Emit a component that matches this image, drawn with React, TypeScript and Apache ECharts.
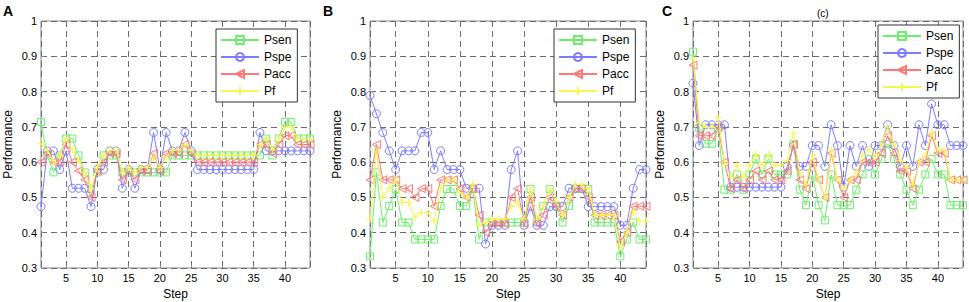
import React, { useEffect, useRef } from 'react';
import * as echarts from 'echarts';

const steps = Array.from({ length: 44 }, (_, i) => i + 1);
const seriesNames = ['Psen', 'Pspe', 'Pacc', 'Pf'];
const yTicks = [0.3, 0.4, 0.5, 0.6, 0.7, 0.8, 0.9, 1];
const panelLabels = ['A', 'B', 'C'];

// Panel A
const aPsen = [0.714,0.619,0.571,0.619,0.667,0.667,0.619,0.571,0.524,0.571,0.619,0.619,0.619,0.571,0.571,0.571,0.571,0.571,0.571,0.571,0.571,0.619,0.619,0.619,0.619,0.619,0.619,0.619,0.619,0.619,0.619,0.619,0.619,0.619,0.619,0.619,0.667,0.619,0.667,0.714,0.714,0.667,0.667,0.667];
const aPspe = [0.474,0.632,0.632,0.579,0.632,0.526,0.526,0.526,0.474,0.579,0.579,0.632,0.632,0.526,0.579,0.526,0.579,0.579,0.684,0.579,0.684,0.632,0.632,0.684,0.632,0.579,0.579,0.579,0.579,0.579,0.579,0.579,0.579,0.579,0.579,0.684,0.632,0.632,0.632,0.632,0.632,0.632,0.632,0.632];
const aPacc = [0.6,0.625,0.6,0.6,0.65,0.6,0.575,0.55,0.5,0.575,0.6,0.625,0.625,0.55,0.575,0.55,0.575,0.575,0.625,0.575,0.625,0.625,0.625,0.65,0.625,0.6,0.6,0.6,0.6,0.6,0.6,0.6,0.6,0.6,0.6,0.65,0.65,0.625,0.65,0.675,0.675,0.65,0.65,0.65];
const aPf = [0.652,0.634,0.6,0.619,0.667,0.636,0.605,0.571,0.524,0.585,0.619,0.634,0.634,0.571,0.585,0.571,0.585,0.585,0.615,0.585,0.615,0.634,0.634,0.65,0.634,0.619,0.619,0.619,0.619,0.619,0.619,0.619,0.619,0.619,0.619,0.65,0.667,0.634,0.667,0.698,0.698,0.667,0.667,0.667];

// Panel B
const bPsen = [0.333,0.571,0.429,0.476,0.524,0.429,0.429,0.381,0.381,0.381,0.381,0.476,0.524,0.524,0.476,0.476,0.524,0.381,0.429,0.429,0.429,0.429,0.429,0.429,0.429,0.524,0.429,0.476,0.524,0.476,0.429,0.476,0.524,0.524,0.524,0.429,0.429,0.429,0.429,0.333,0.381,0.429,0.381,0.381];
const bPspe = [0.789,0.737,0.684,0.632,0.579,0.632,0.632,0.632,0.684,0.684,0.579,0.632,0.579,0.579,0.579,0.526,0.526,0.526,0.368,0.421,0.421,0.421,0.579,0.632,0.421,0.474,0.421,0.421,0.474,0.474,0.474,0.526,0.526,0.526,0.474,0.474,0.474,0.474,0.474,0.421,0.421,0.526,0.579,0.579];
const bPacc = [0.55,0.65,0.55,0.55,0.55,0.525,0.525,0.5,0.525,0.525,0.475,0.55,0.55,0.55,0.525,0.5,0.525,0.45,0.4,0.425,0.425,0.425,0.5,0.525,0.425,0.5,0.425,0.45,0.5,0.475,0.45,0.5,0.525,0.525,0.5,0.45,0.45,0.45,0.45,0.375,0.4,0.475,0.475,0.475];
const bPf = [0.438,0.632,0.5,0.526,0.55,0.486,0.486,0.444,0.457,0.457,0.432,0.526,0.55,0.55,0.513,0.5,0.537,0.421,0.429,0.439,0.439,0.439,0.474,0.486,0.439,0.524,0.439,0.476,0.524,0.488,0.45,0.5,0.537,0.537,0.524,0.45,0.45,0.45,0.45,0.359,0.4,0.462,0.432,0.432];

// Panel C
const cPsen = [0.913,0.696,0.652,0.652,0.696,0.522,0.522,0.565,0.522,0.565,0.609,0.565,0.609,0.565,0.565,0.565,0.652,0.522,0.478,0.565,0.478,0.435,0.565,0.478,0.478,0.478,0.522,0.565,0.609,0.565,0.609,0.652,0.609,0.565,0.522,0.478,0.522,0.565,0.609,0.565,0.565,0.478,0.478,0.478];
const cPspe = [0.824,0.647,0.706,0.706,0.706,0.706,0.529,0.529,0.529,0.529,0.529,0.529,0.529,0.529,0.529,0.588,0.647,0.588,0.588,0.647,0.647,0.588,0.706,0.647,0.529,0.647,0.588,0.647,0.588,0.647,0.647,0.706,0.647,0.588,0.647,0.588,0.706,0.647,0.765,0.706,0.706,0.647,0.647,0.647];
const cPacc = [0.875,0.675,0.675,0.675,0.7,0.6,0.525,0.55,0.525,0.55,0.575,0.55,0.575,0.55,0.55,0.575,0.65,0.55,0.525,0.6,0.55,0.5,0.625,0.55,0.5,0.55,0.55,0.6,0.6,0.6,0.625,0.675,0.625,0.575,0.575,0.525,0.6,0.6,0.675,0.625,0.625,0.55,0.55,0.55];
const cPf = [0.894,0.711,0.698,0.698,0.727,0.6,0.558,0.591,0.558,0.591,0.622,0.591,0.622,0.591,0.591,0.605,0.682,0.571,0.537,0.619,0.55,0.5,0.634,0.55,0.524,0.55,0.571,0.619,0.636,0.619,0.651,0.698,0.651,0.605,0.585,0.537,0.6,0.619,0.683,0.634,0.634,0.55,0.55,0.55];

const panels = [
  [aPsen, aPspe, aPacc, aPf],
  [bPsen, bPspe, bPacc, bPf],
  [cPsen, cPspe, cPacc, cPf],
];

const FONT = '"Liberation Sans", Arial, Helvetica, sans-serif';
const COLORS = ['#6cf06c', '#7c7cff', '#ff7878', '#f6f650'];
const SYMBOLS = [
  { symbol: 'rect', symbolSize: 7, symbolRotate: 0 },
  { symbol: 'circle', symbolSize: 8, symbolRotate: 0 },
  { symbol: 'triangle', symbolSize: 8, symbolRotate: 90 },
  { symbol: 'path://M5,0L5,10M0,5L10,5', symbolSize: 8, symbolRotate: 0 },
];

const GRIDS = [
  { left: 41, width: 269 },
  { left: 370, width: 276 },
  { left: 693, width: 270 },
];
const LEGEND_POS = [
  { left: 216, top: 29 },
  { left: 554, top: 29 },
  { left: 878, top: 25 },
];
const LABEL_POS = [3, 323, 662];

function buildOption() {
  const grid = GRIDS.map((g) => ({
    left: g.left,
    width: g.width,
    top: 21,
    height: 247,
    show: true,
    backgroundColor: '#fff',
    borderColor: '#8a8a8a',
    borderWidth: 1,
    containLabel: false,
    outerBoundsMode: 'none',
  }));

  const splitLine = { show: true, lineStyle: { color: '#6a6a6a', type: [6, 4], width: 1 } };

  const xAxis = GRIDS.map((_, i) => ({
    type: 'value',
    gridIndex: i,
    min: 1,
    max: 44,
    splitNumber: 8,
    minInterval: 5,
    maxInterval: 5,
    name: 'Step',
    nameLocation: 'middle',
    nameGap: 18,
    nameTextStyle: { fontSize: 12, color: '#000', fontFamily: FONT },
    axisLine: { show: false },
    axisTick: { show: true, inside: true, length: 3, lineStyle: { color: '#8a8a8a' } },
    axisLabel: { fontSize: 11, color: '#000', fontFamily: FONT, margin: 4, showMinLabel: false, showMaxLabel: false },
    splitLine,
  }));

  const yAxis = GRIDS.map((_, i) => ({
    type: 'value',
    gridIndex: i,
    min: yTicks[0],
    max: yTicks[yTicks.length - 1],
    interval: 0.1,
    name: 'Performance',
    nameLocation: 'middle',
    nameGap: 27,
    nameTextStyle: { fontSize: 12, color: '#000', fontFamily: FONT },
    axisLine: { show: false },
    axisTick: { show: true, inside: true, length: 3, lineStyle: { color: '#8a8a8a' } },
    axisLabel: {
      fontSize: 11,
      color: '#000',
      fontFamily: FONT,
      margin: 4,
      formatter: (v: number) => (Math.abs(v - 1) < 1e-9 ? '1' : v.toFixed(1)),
    },
    splitLine,
  }));

  const series: any[] = [];
  panels.forEach((arrs, p) => {
    arrs.forEach((arr, s) => {
      series.push({
        type: 'line',
        name: seriesNames[s],
        xAxisIndex: p,
        yAxisIndex: p,
        data: steps.map((x, i) => [x, arr[i]]),
        symbol: SYMBOLS[s].symbol,
        symbolSize: SYMBOLS[s].symbolSize,
        symbolRotate: SYMBOLS[s].symbolRotate,
        showSymbol: true,
        showAllSymbol: true,
        lineStyle: { color: COLORS[s], width: 1 },
        itemStyle: { color: 'rgba(255,255,255,0)', borderColor: COLORS[s], borderWidth: 1 },
        emphasis: { disabled: true },
        silent: true,
        z: 2 + s,
      });
    });
  });

  const legend = LEGEND_POS.map((pos) => ({
    left: pos.left,
    top: pos.top,
    orient: 'vertical',
    data: seriesNames.map((n) => ({ name: n, itemStyle: { color: 'rgba(255,255,255,0)' } })),
    backgroundColor: '#fff',
    borderColor: '#333',
    borderWidth: 1,
    borderRadius: 0,
    padding: [4, 6, 4, 4],
    itemWidth: 38,
    itemHeight: 10,
    itemGap: 3,
    selectedMode: false,
    textStyle: { fontSize: 12, lineHeight: 14, color: '#000', fontFamily: FONT },
    z: 10,
  }));

  const graphic = [
    ...panelLabels.map((t, i) => ({
      type: 'text',
      left: LABEL_POS[i],
      top: 4,
      style: { text: t, font: `bold 14px ${FONT}`, fill: '#000' },
    })),
    {
      type: 'text',
      left: 817,
      top: 8,
      style: { text: '(c)', font: `10px ${FONT}`, fill: '#000' },
    },
  ];

  return {
    animation: false,
    backgroundColor: '#fff',
    grid,
    xAxis,
    yAxis,
    legend,
    series,
    graphic,
  };
}

export default function App() {
  const ref = useRef<HTMLDivElement>(null);
  useEffect(() => {
    document.body.style.margin = '0';
    const chart = echarts.init(ref.current as HTMLDivElement, null, { renderer: 'svg' });
    chart.setOption(buildOption() as any);
    return () => chart.dispose();
  }, []);
  return <div ref={ref} style={{ width: 969, height: 302 }} />;
}
